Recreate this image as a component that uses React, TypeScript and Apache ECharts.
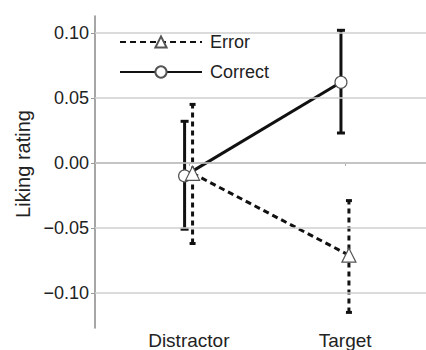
import React, { useEffect, useRef } from "react";
import * as echarts from "echarts";

const categories = ["Distractor", "Target"];
const catPos = [1, 2];
const correctMean = [-0.01, 0.062];
const correctLow = [-0.051, 0.023];
const correctHigh = [0.032, 0.102];
const errorMean = [-0.008, -0.071];
const errorLow = [-0.062, -0.115];
const errorHigh = [0.045, -0.029];
const yTicks = [-0.1, -0.05, 0, 0.05, 0.1];
const correctOffset = -0.027;
const errorOffset = 0.024;

const FONT = "'Liberation Sans', Arial, Helvetica, sans-serif";

function fmtY(v: number): string {
  const s = Math.abs(v).toFixed(2);
  return v < -1e-9 ? "\u2212" + s : s;
}

function errBarRender(dashed: boolean, capW: number) {
  return (params: any, api: any) => {
    const x = api.value(0);
    const lo = api.value(1);
    const hi = api.value(2);
    const pLo = api.coord([x, lo]);
    const pHi = api.coord([x, hi]);
    const style: any = { stroke: "#111", lineWidth: 3, fill: null };
    if (dashed) style.lineDash = [5, 4];
    const capStyle: any = { stroke: "#111", lineWidth: 3, fill: null };
    return {
      type: "group",
      children: [
        { type: "line", shape: { x1: pLo[0], y1: pLo[1], x2: pHi[0], y2: pHi[1] }, style },
        { type: "line", shape: { x1: pLo[0] - capW / 2, y1: pLo[1], x2: pLo[0] + capW / 2, y2: pLo[1] }, style: capStyle },
        { type: "line", shape: { x1: pHi[0] - capW / 2, y1: pHi[1], x2: pHi[0] + capW / 2, y2: pHi[1] }, style: capStyle },
      ],
    };
  };
}

export default function App() {
  const ref = useRef<HTMLDivElement>(null);
  useEffect(() => {
    if (!ref.current) return;
    const chart = echarts.init(ref.current, null, { renderer: "svg" });
    const correctPts = catPos.map((p, i) => [p + correctOffset, correctMean[i]]);
    const errorPts = catPos.map((p, i) => [p + errorOffset, errorMean[i]]);
    const correctBars = catPos.map((p, i) => [p + correctOffset, correctLow[i], correctHigh[i]]);
    const errorBars = catPos.map((p, i) => [p + errorOffset, errorLow[i], errorHigh[i]]);
    chart.setOption({
      animation: false,
      backgroundColor: "#fff",
      grid: { left: 95, right: -13, top: 16, bottom: 22, outerBoundsMode: "none" },
      legend: {
        orient: "vertical",
        left: 114,
        top: 28,
        itemWidth: 82,
        itemHeight: 14,
        itemGap: 12,
        data: ["Error", "Correct"],
        textStyle: { fontFamily: FONT, fontSize: 18, color: "#222", padding: [0, 0, 0, 3] },
      },
      xAxis: {
        type: "value",
        min: 0.4,
        max: 2.6,
        axisLine: { show: true, lineStyle: { color: "#888", width: 1.5 } },
        axisTick: { show: true, length: 3, customValues: catPos, lineStyle: { color: "#aaa" } },
        splitLine: { show: false },
        axisLabel: {
          customValues: catPos,
          formatter: (v: number) => categories[catPos.indexOf(Math.round(v))] ?? "",
          fontFamily: FONT,
          fontSize: 19,
          color: "#222",
          margin: 3,
        },
      },
      yAxis: {
        type: "value",
        min: -0.127,
        max: 0.113,
        name: "Liking rating",
        nameLocation: "middle",
        nameGap: 62,
        nameTextStyle: { fontFamily: FONT, fontSize: 20, color: "#222", padding: [0, 0, 0, 16] },
        axisLine: { show: true, lineStyle: { color: "#888", width: 1.5 } },
        axisTick: { show: true, length: 4, customValues: yTicks, lineStyle: { color: "#999" } },
        splitLine: { show: false },
        axisLabel: {
          customValues: yTicks,
          formatter: (v: number) => fmtY(v),
          fontFamily: FONT,
          fontSize: 18,
          color: "#222",
          margin: 6,
        },
      },
      series: [
        {
          type: "line",
          name: "_grid",
          data: [],
          z: 1,
          silent: true,
          markLine: {
            silent: true,
            symbol: ["none", "none"],
            label: { show: false },
            lineStyle: { color: "#cfcfcf", width: 1.5, type: "solid" },
            data: yTicks.map((v) => ({ yAxis: v })),
          },
        },
        {
          type: "custom",
          name: "_errbarCorrect",
          data: correctBars,
          z: 2,
          encode: { x: 0, y: [1, 2] },
          renderItem: errBarRender(false, 8),
          silent: true,
        },
        {
          type: "custom",
          name: "_errbarError",
          data: errorBars,
          z: 2,
          encode: { x: 0, y: [1, 2] },
          renderItem: errBarRender(true, 6),
          silent: true,
        },
        {
          type: "line",
          name: "Correct",
          data: correctPts,
          z: 3,
          symbol: "circle",
          symbolSize: 12,
          lineStyle: { color: "#111", width: 3, type: "solid" },
          itemStyle: { color: "#fff", borderColor: "#555", borderWidth: 1.2 },
        },
        {
          type: "line",
          name: "Error",
          data: errorPts,
          z: 4,
          symbol: "triangle",
          symbolSize: 14,
          lineStyle: { color: "#111", width: 3, type: [6, 4] },
          itemStyle: { color: "#fff", borderColor: "#555", borderWidth: 1.2 },
        },
      ],
    });
    return () => chart.dispose();
  }, []);
  return (
    <div
      ref={ref}
      style={{ position: "fixed", left: 0, top: 0, width: 426, height: 350 }}
    />
  );
}
